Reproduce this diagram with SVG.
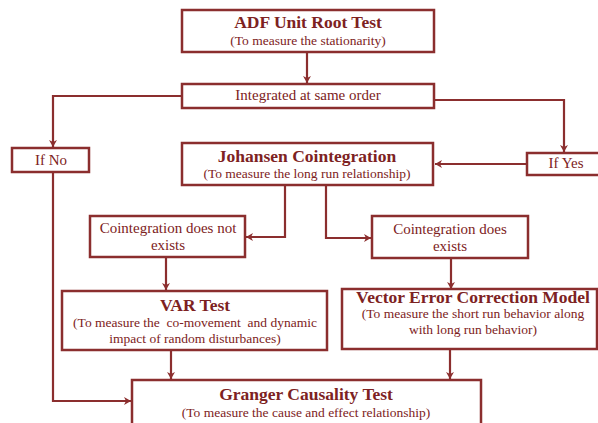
<svg xmlns="http://www.w3.org/2000/svg" width="598" height="423" viewBox="0 0 598 423">
<style>
.box{fill:#fff;stroke:#8b2e2e;stroke-width:2.5}
.ln{fill:none;stroke:#8b2e2e;stroke-width:2.2}
text{font-family:'Liberation Serif','DejaVu Serif',serif;fill:#7d2222;text-anchor:middle}
.t{font-weight:bold;font-size:17.5px}
.s{font-size:13.5px}
.m{font-size:15px}
</style>
<defs>
<marker id="ah" markerWidth="10" markerHeight="10" refX="8" refY="5" orient="auto" markerUnits="userSpaceOnUse">
<path d="M1,1 L8,5 L1,9 L3,5 Z" fill="#8b2e2e"/>
</marker>
</defs>
<rect width="598" height="423" fill="#fff"/>
<g id="connectors">
<path class="ln" d="M307,52 V83" marker-end="url(#ah)"/>
<path class="ln" d="M182,96 H53 V147" marker-end="url(#ah)"/>
<path class="ln" d="M434,100 H564 V152" marker-end="url(#ah)"/>
<path class="ln" d="M527,164 H435" marker-end="url(#ah)"/>
<path class="ln" d="M285,185 V237 H246" marker-end="url(#ah)"/>
<path class="ln" d="M326,185 V238 H371" marker-end="url(#ah)"/>
<path class="ln" d="M166,257 V290" marker-end="url(#ah)"/>
<path class="ln" d="M451,258 V289" marker-end="url(#ah)"/>
<path class="ln" d="M171,350 V379" marker-end="url(#ah)"/>
<path class="ln" d="M450,349 V379" marker-end="url(#ah)"/>
<path class="ln" d="M53,172 V401 H131" marker-end="url(#ah)"/>
</g>
<g id="adf">
<rect class="box" x="182" y="10" width="252" height="42"/>
<text class="t" x="308" y="28">ADF Unit Root Test</text>
<text class="s" x="308" y="45">(To measure the stationarity)</text>
</g>
<g id="integrated">
<rect class="box" x="182" y="84" width="252" height="24"/>
<text class="m" x="308" y="100">Integrated at same order</text>
</g>
<g id="ifno">
<rect class="box" x="12" y="148" width="77" height="24"/>
<text class="m" x="51" y="165">If No</text>
</g>
<g id="ifyes">
<rect class="box" x="527" y="153" width="75" height="22"/>
<text class="m" x="566" y="168">If Yes</text>
</g>
<g id="johansen">
<rect class="box" x="182" y="143" width="251" height="42"/>
<text class="t" x="307" y="162">Johansen Cointegration</text>
<text class="s" x="307" y="178">(To measure the long run relationship)</text>
</g>
<g id="notexists">
<rect class="box" x="90" y="216" width="155" height="41"/>
<text class="m" x="168" y="233">Cointegration does not</text>
<text class="m" x="168" y="250">exists</text>
</g>
<g id="exists">
<rect class="box" x="372" y="216" width="156" height="42"/>
<text class="m" x="450" y="234">Cointegration does</text>
<text class="m" x="450" y="251">exists</text>
</g>
<g id="var">
<rect class="box" x="62" y="291" width="265" height="59"/>
<text class="t" x="195" y="311">VAR Test</text>
<text class="s" x="195" y="327" xml:space="preserve">(To measure the  co-movement  and dynamic</text>
<text class="s" x="195" y="343">impact of random disturbances)</text>
</g>
<g id="vecm">
<rect class="box" x="342" y="289" width="255" height="60"/>
<text class="t" x="473" y="303">Vector Error Correction Model</text>
<text class="s" x="473" y="318">(To measure the short run behavior along</text>
<text class="s" x="473" y="334">with long run behavior)</text>
</g>
<g id="granger">
<rect class="box" x="132" y="380" width="349" height="46"/>
<text class="t" x="306" y="400">Granger Causality Test</text>
<text class="s" x="306" y="417">(To measure the cause and effect relationship)</text>
</g>
</svg>
